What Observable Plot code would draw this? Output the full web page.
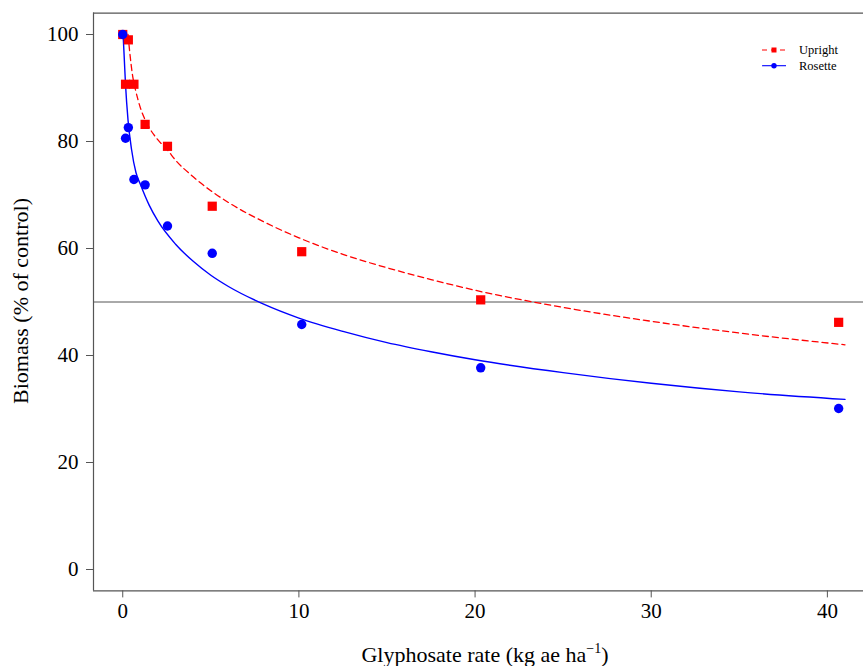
<!DOCTYPE html>
<html><head><meta charset="utf-8">
<script src="https://cdn.jsdelivr.net/npm/d3@7"></script>
<script src="https://cdn.jsdelivr.net/npm/@observablehq/plot@0.6"></script>
<style>body{margin:0;background:#fff;} svg{display:block}</style>
</head><body><div id="chart"></div>
<script>
// Observed data
const rates = [0, 0.15875, 0.3175, 0.635, 1.27, 2.54, 5.08, 10.16, 20.32, 40.64];
const uprightBiomass = [100, 90.7, 99.0, 90.7, 83.2, 79.1, 67.9, 59.4, 50.4, 46.2];
const rosetteBiomass = [100, 80.6, 82.6, 72.9, 71.9, 64.2, 59.1, 45.8, 37.7, 30.1];

// Fitted curves
const uprightFitX = [0.3, 0.42, 0.55, 0.7, 0.85, 1, 1.25, 1.5, 2, 2.54, 3, 4, 5, 6, 8, 10, 12.5, 15, 17.5, 20, 25, 30, 35, 41];
const uprightFitY = [100, 96, 92.5, 90, 88, 86.3, 84.2, 82.6, 80.3, 78.4, 76.5, 73.4, 70.8, 68.6, 65.0, 62.0, 58.9, 56.4, 54.2, 52.2, 49.0, 46.4, 44.2, 42.0];
const rosetteFitX = [0.02, 0.08, 0.16, 0.3, 0.5, 0.75, 1, 1.5, 2, 3, 4, 5, 6, 8, 10, 12.5, 15, 17.5, 20, 25, 30, 35, 41];
const rosetteFitY = [100, 96, 90.5, 84, 78.5, 74.2, 72.0, 68.1, 65.1, 60.8, 57.6, 55.0, 52.9, 49.6, 47.0, 44.5, 42.4, 40.7, 39.2, 36.8, 34.8, 33.2, 31.8];

const xTicks = [0, 10, 20, 30, 40];
const yTicks = [0, 20, 40, 60, 80, 100];
const refLine = [50];
const xDomain = [-1.66, 42.05];
const yDomain = [-4, 104];
const seriesNames = ["Upright", "Rosette"];
const seriesColors = ["red", "blue"];

const upright = rates.map((r, i) => ({x: r, y: uprightBiomass[i]}));
const rosette = rates.map((r, i) => ({x: r, y: rosetteBiomass[i]}));
const upFit = uprightFitX.map((x, i) => ({x, y: uprightFitY[i]}));
const roFit = rosetteFitX.map((x, i) => ({x, y: rosetteFitY[i]}));

const serif = "'Liberation Serif', 'DejaVu Serif', 'Times New Roman', serif";

const chart = Plot.plot({
  width: 863, height: 666,
  marginLeft: 93, marginRight: 0, marginTop: 12.6, marginBottom: 75.6,
  style: {fontFamily: serif, fontSize: "21px", background: "white", color: "#000"},
  x: {domain: xDomain, ticks: xTicks, tickSize: 7, tickPadding: 5, label: null},
  y: {domain: yDomain, ticks: yTicks, tickSize: 7, tickPadding: 8, label: null},
  marks: [
    Plot.ruleY(refLine, {stroke: "#555", strokeWidth: 1}),
    Plot.line(upFit, {x: "x", y: "y", stroke: seriesColors[0], strokeWidth: 1.3, strokeDasharray: "6,4", curve: "monotone-x"}),
    Plot.line(roFit, {x: "x", y: "y", stroke: seriesColors[1], strokeWidth: 1.4, curve: "monotone-x"}),
    Plot.dot(upright, {x: "x", y: "y", symbol: "square", r: 5.2, fill: seriesColors[0], stroke: "none"}),
    Plot.dot(rosette, {x: "x", y: "y", r: 4.7, fill: seriesColors[1], stroke: "none"}),
    Plot.ruleY([yDomain[0], yDomain[1]], {stroke: "#555", strokeWidth: 1.2}),
    Plot.ruleX([xDomain[0]], {stroke: "#555", strokeWidth: 1.2}),
    Plot.axisX({ticks: xTicks, tickSize: 7, tickPadding: 5, stroke: "#555", fill: "#000", fontSize: 21, label: null}),
    Plot.axisY({ticks: yTicks, tickSize: 7, tickPadding: 8, stroke: "#555", fill: "#000", fontSize: 21, label: null})
  ]
});

document.getElementById("chart").appendChild(chart);
const svg = d3.select(chart);

// Axis titles
svg.append("text")
  .attr("transform", "translate(28,301) rotate(-90)")
  .attr("text-anchor", "middle")
  .attr("font-family", serif).attr("font-size", 22).attr("fill", "#000")
  .text("Biomass (% of control)");

const xt = svg.append("text")
  .attr("x", 485).attr("y", 662)
  .attr("text-anchor", "middle")
  .attr("font-family", serif).attr("font-size", 22).attr("fill", "#000");
xt.append("tspan").text("Glyphosate rate (kg ae ha");
xt.append("tspan").attr("font-size", 14).attr("dy", -9).text("\u22121");
xt.append("tspan").attr("dy", 9).text(")");

// Legend
const lg = svg.append("g").attr("font-family", serif).attr("font-size", 12.5).attr("text-anchor", "start");
seriesNames.forEach((name, i) => {
  const y = 50 + i * 15.7;
  lg.append("line").attr("x1", 762).attr("x2", 786).attr("y1", y).attr("y2", y)
    .attr("stroke", seriesColors[i]).attr("stroke-width", 1.1)
    .attr("stroke-dasharray", i === 0 ? "5,4" : null);
  if (i === 0) {
    lg.append("rect").attr("x", 771.5).attr("y", y - 2.5).attr("width", 5).attr("height", 5).attr("fill", seriesColors[i]);
  } else {
    lg.append("circle").attr("cx", 774).attr("cy", y).attr("r", 2.7).attr("fill", seriesColors[i]);
  }
  lg.append("text").attr("x", 799).attr("y", y).attr("dy", "0.35em").attr("text-anchor", "start").attr("fill", "#000").text(name);
});
</script>
</body></html>
